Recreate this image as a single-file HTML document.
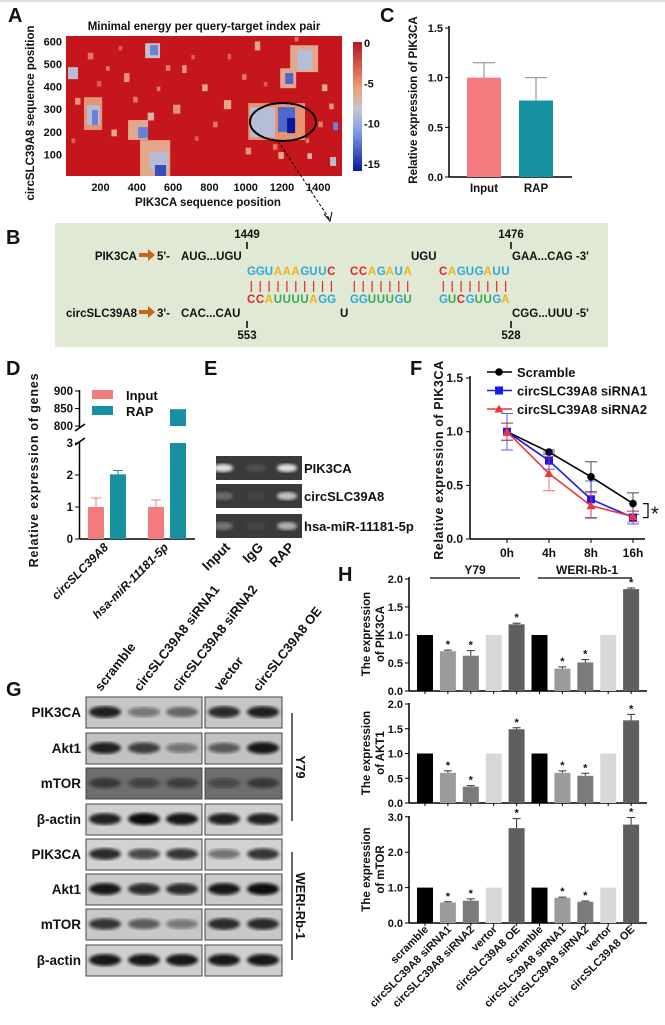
<!DOCTYPE html>
<html><head><meta charset="utf-8"><style>
html,body{margin:0;padding:0;background:#fff}
svg{display:block;font-family:"Liberation Sans",Arial,sans-serif;font-weight:bold}
text{fill:#111}
</style></head><body>
<svg id="fig" width="665" height="1025" viewBox="0 0 665 1025" xmlns="http://www.w3.org/2000/svg">
<defs>
<linearGradient id="cbar" x1="0" y1="0" x2="0" y2="1">
<stop offset="0" stop-color="#b2182b"/><stop offset="0.2" stop-color="#d9604a"/><stop offset="0.36" stop-color="#e9a27c"/><stop offset="0.52" stop-color="#c9c6cf"/><stop offset="0.7" stop-color="#7f9be6"/><stop offset="1" stop-color="#0818a0"/>
</linearGradient>
<filter id="blur1"><feGaussianBlur stdDeviation="1.6"/></filter>
<clipPath id="hmclip"><rect x="66" y="36" width="276" height="140"/></clipPath>
</defs>
<line x1="0" y1="1" x2="665" y2="1" stroke="#bbb"/>
<text x="8" y="22" font-size="20">A</text>
<text x="380" y="22" font-size="20">C</text>
<text x="6" y="244" font-size="20">B</text>
<text x="6" y="375" font-size="20">D</text>
<text x="204" y="375" font-size="20">E</text>
<text x="410" y="375" font-size="20">F</text>
<text x="6" y="696" font-size="20">G</text>
<text x="338" y="581" font-size="20">H</text>

<text x="204" y="30" font-size="11.5" text-anchor="middle">Minimal energy per query-target index pair</text>
<g id="hm" clip-path="url(#hmclip)"><rect x="66" y="36" width="276" height="140" fill="#c4161c"/></g>
<g id="hmAxes"></g>
<rect x="353" y="42" width="9" height="129" fill="url(#cbar)"/>
<g id="cbTicks"></g>
<text x="208" y="206" font-size="11.5" text-anchor="middle">PIK3CA sequence position</text>
<text transform="translate(34,113) rotate(-90)" font-size="11.5" text-anchor="middle">circSLC39A8 sequence position</text>
<ellipse cx="283" cy="122" rx="33" ry="19" fill="none" stroke="#000" stroke-width="2"/>
<line x1="278" y1="141" x2="330" y2="220" stroke="#000" stroke-dasharray="3,2"/>
<path d="M324 214 L330 221 L332 212" fill="none" stroke="#000"/>

<g id="chartC"></g>
<text transform="translate(417,100) rotate(-90)" font-size="11.5" text-anchor="middle">Relative expression of  PIK3CA</text>

<rect x="55" y="223" width="553" height="124" fill="#dfe9d3"/>
<g font-size="11.5">
<text x="247" y="238" text-anchor="middle">1449</text>
<line x1="247" y1="242" x2="247" y2="249" stroke="#000" stroke-width="1.5"/>
<text x="511" y="238" text-anchor="middle">1476</text>
<line x1="511" y1="242" x2="511" y2="249" stroke="#000" stroke-width="1.5"/>
<text x="137" y="260" text-anchor="end">PIK3CA</text>
<path d="M139 253 h9 v-4 l7 6 l-7 6 v-4 h-9z" fill="#c8641c"/>
<text x="157" y="260">5'-</text>
<text x="181" y="260">AUG...UGU</text>
<text x="411" y="260">UGU</text>
<text x="512" y="260">GAA...CAG -3'</text>
<text x="137" y="317" text-anchor="end">circSLC39A8</text>
<path d="M139 310 h9 v-4 l7 6 l-7 6 v-4 h-9z" fill="#c8641c"/>
<text x="157" y="317">3'-</text>
<text x="181" y="317">CAC...CAU</text>
<text x="340" y="317">U</text>
<text x="512" y="317">CGG...UUU -5'</text>
<line x1="247" y1="321" x2="247" y2="328" stroke="#000" stroke-width="1.5"/>
<text x="247" y="339" text-anchor="middle">553</text>
<line x1="511" y1="321" x2="511" y2="328" stroke="#000" stroke-width="1.5"/>
<text x="511" y="339" text-anchor="middle">528</text>
</g>
<g id="seqs" font-size="11.5"></g>

<g id="chartD"></g>
<text transform="translate(38,470) rotate(-90)" font-size="12.5" text-anchor="middle" letter-spacing="0.8">Relative expression of  genes</text>

<g id="gelE"></g>

<g id="chartF"></g>
<text transform="translate(443,460) rotate(-90)" font-size="12.5" text-anchor="middle" letter-spacing="0.6">Relative expression of  PIK3CA</text>

<g id="blotG"></g>
<g id="chartH"></g>
</svg>
<script>
// ---------- data ----------
const blobPos = [418,473,500, 109,126,153, 1014,1025,1178,1228, 1245,1283, 446,473, 21, 1190,1218, 352,407, 1482, 1465,
 130,180,230,300,330,380,600,650,700,760,820,880,900,980,1000,1050,1100,1150,1180,1330,1400,1420,1460,560,460,720,260,60,1340,1270,40,510];
const blobCirc = [4,31,4, 208,230,230, 164,177,199,194, 464,473, 526,539, 433, 393,411, 164,172, 207, 49,
 520,400,470,560,420,330,280,460,520,380,220,300,520,430,100,560,400,120,80,150,220,380,300,470,250,160,180,320,80,600,150,380];
const blobW = [166,100,61, 100,71,33, 313,137,94,44, 154,82, 82,44, 55, 88,44, 110,55, 27, 33,
 30,25,20,20,30,25,40,25,20,30,25,40,20,25,30,30,20,25,30,20,25,30,25,25,35,20,30,30,25,20,20,20];
const blobH = [159,79,49, 145,88,66, 163,132,110,67, 119,88, 66,44, 53, 88,49, 88,49, 35, 39,
 30,25,20,20,40,25,40,35,20,30,25,40,25,25,30,40,20,25,30,20,25,30,25,25,35,20,30,30,25,20,20,20];
const blobE = [-6,-9,-14, -5,-9,-12, -5,-9,-13,-16, -6,-9, -8,-12, -9, -6,-13, -6,-12, -12, -9,
 -4,-3,-4,-3,-5,-4,-5,-5,-3,-6,-4,-6,-3,-4,-5,-6,-3,-4,-6,-4,-4,-6,-5,-4,-7,-3,-6,-5,-7,-4,-3,-4];
const hmXTicks = [200,400,600,800,1000,1200,1400];
const hmYTicks = [100,200,300,400,500,600];
const cbTicks = [0,-5,-10,-15];
const cCats = ["Input","RAP"];
const cVals = [1.0,0.77];
const cErr = [0.15,0.23];
const cTicks = [0,0.5,1.0,1.5];
const dCats = ["circSLC39A8","hsa-miR-11181-5p"];
const dInput = [1.0,1.0];
const dInputErr = [0.28,0.22];
const dRAP = [2.02,848];
const dRAPErr = [0.12,1];
const dLowTicks = [0,1,2,3];
const dHighTicks = [800,850,900];
const eGenes = ["PIK3CA","circSLC39A8","hsa-miR-11181-5p"];
const eLanes = ["Input","IgG","RAP"];
const eBands = [[0.85,0.1,0.85],[0.25,0.05,0.7],[0.3,0.05,0.6]];
const fTimes = ["0h","4h","8h","16h"];
const fScr = [1.0,0.81,0.58,0.33];
const fScrErr = [0.08,0.02,0.14,0.1];
const fSi1 = [1.0,0.73,0.37,0.20];
const fSi1Err = [0.17,0.08,0.17,0.06];
const fSi2 = [1.0,0.61,0.31,0.21];
const fSi2Err = [0.08,0.16,0.12,0.05];
const fTicks = [0,0.5,1.0,1.5];
const gProteins = ["PIK3CA","Akt1","mTOR","β-actin","PIK3CA","Akt1","mTOR","β-actin"];
const gLanes = ["scramble","circSLC39A8 siRNA1","circSLC39A8 siRNA2","vector","circSLC39A8 OE"];
const gBands = [[0.9,0.45,0.55,0.85,0.9],[0.9,0.75,0.45,0.6,0.95],[0.6,0.5,0.55,0.45,0.6],[0.9,1,0.95,0.9,0.9],
 [0.85,0.7,0.8,0.5,0.8],[0.95,0.85,0.85,0.95,1],[0.8,0.6,0.45,0.85,0.85],[0.95,0.95,0.95,0.95,0.95]];
const hCats = ["scramble","circSLC39A8 siRNA1","circSLC39A8 siRNA2","vertor","circSLC39A8 OE","scramble","circSLC39A8 siRNA1","circSLC39A8 siRNA2","vertor","circSLC39A8 OE"];
const hPIK = [1,0.71,0.63,1,1.19, 1,0.40,0.51,1,1.82];
const hPIKErr = [0,0.02,0.09,0,0.02, 0,0.03,0.05,0,0.02];
const hAKT = [1,0.61,0.33,1,1.49, 1,0.61,0.55,1,1.67];
const hAKTErr = [0,0.04,0.02,0,0.03, 0,0.04,0.05,0,0.12];
const hMTOR = [1,0.58,0.63,1,2.68, 1,0.71,0.60,1,2.78];
const hMTORErr = [0,0.02,0.05,0,0.27, 0,0.02,0.02,0,0.2];
const hStar = [0,1,1,0,1, 0,1,1,0,1];
const hTicks12 = [0,0.5,1.0,1.5,2.0];
const hTicks3 = [0,1.0,2.0,3.0];

// ---------- helpers ----------
const NS="http://www.w3.org/2000/svg";
function mk(tag, attrs, parent){const e=document.createElementNS(NS,tag);for(const k in attrs)e.setAttribute(k,attrs[k]);parent.appendChild(e);return e;}
function txt(str, attrs, parent){const e=mk('text',attrs,parent);e.textContent=str;return e;}
function lerp(a,b,t){return a+(b-a)*t}
function hex(c){return [parseInt(c.slice(1,3),16),parseInt(c.slice(3,5),16),parseInt(c.slice(5,7),16)]}
const stops=[[0,"#c4161c"],[-3,"#d9604a"],[-5.5,"#e9a27c"],[-8.5,"#c3c6d3"],[-11,"#7f9be6"],[-16,"#0818a0"]];
function ecol(e){for(let i=0;i<stops.length-1;i++){const [a,ca]=stops[i],[b,cb]=stops[i+1];if(e<=a&&e>=b){const t=(a-e)/(a-b);const A=hex(ca),B=hex(cb);return `rgb(${Math.round(lerp(A[0],B[0],t))},${Math.round(lerp(A[1],B[1],t))},${Math.round(lerp(A[2],B[2],t))})`;}}return stops[stops.length-1][1];}

// ---------- A ----------
const ax=p=>64.2+p*36.3/200, ay=c=>177-c*22.6/100;
const hm=document.getElementById('hm');
for(let i=0;i<blobPos.length;i++){
  const r=mk('rect',{x:ax(blobPos[i]),y:ay(blobCirc[i]+blobH[i]),width:ax(blobW[i])-ax(0),height:ay(0)-ay(blobH[i]),fill:ecol(blobE[i])},hm);
  
  
}
const hmAx=document.getElementById('hmAxes');
hmXTicks.forEach(v=>{const t=txt(String(v),{x:ax(v),y:191,'font-size':11,'text-anchor':'middle'},hmAx);
  
  });
hmYTicks.forEach(v=>{const t=txt(String(v),{x:62,y:ay(v)+4,'font-size':11,'text-anchor':'end'},hmAx);
  
  });
const cbG=document.getElementById('cbTicks');
cbTicks.forEach(v=>{const t=txt(String(v),{x:364,y:43-v*8.07+4,'font-size':11},cbG);
  
  });

// ---------- C ----------
const C=document.getElementById('chartC');
const cy=v=>177-v*149/1.5;
mk('line',{x1:449,y1:26,x2:449,y2:177,stroke:'#000','stroke-width':1.5},C);
mk('line',{x1:449,y1:177,x2:572,y2:177,stroke:'#000','stroke-width':1.5},C);
cTicks.forEach(v=>{mk('line',{x1:445,y1:cy(v),x2:449,y2:cy(v),stroke:'#000'},C);
  const t=txt(v.toFixed(1),{x:443,y:cy(v)+4,'font-size':11,'text-anchor':'end'},C);
  
  });
const cCols=['#f47b7d','#17909f'], cX=[484,536];
cCats.forEach((c,i)=>{
  const b=mk('rect',{x:cX[i]-17,y:cy(cVals[i]),width:34,height:cy(0)-cy(cVals[i]),fill:cCols[i]},C);
  
  
  mk('line',{x1:cX[i],y1:cy(cVals[i]),x2:cX[i],y2:cy(cVals[i]+cErr[i]),stroke:'#888'},C);
  mk('line',{x1:cX[i]-11,y1:cy(cVals[i]+cErr[i]),x2:cX[i]+11,y2:cy(cVals[i]+cErr[i]),stroke:'#888'},C);
  const t=txt(c,{x:cX[i],y:192,'font-size':11.5,'text-anchor':'middle'},C);
  
  
});

// ---------- B sequences ----------
const S=document.getElementById('seqs');
const col={C:'#e3262c',A:'#f2b21c',G:'#2ea6dc',U:'#2ea6dc'};
const colB={C:'#e3262c',A:'#f2b21c',G:'#2ea6dc',U:'#3aa655'};
const topSeg=[["GGUAAAGUUC",247],["CCAGAUA",350],["CAGUGAUU",439]];
const botSeg=[["CCAUUUUAGG",247],["GGUUUGU",350],["GUCGUUGA",439]];
const cw=8.9;
topSeg.forEach(([s,x0])=>{[...s].forEach((ch,k)=>{const t=txt(ch,{x:x0+k*cw,y:275},S);t.style.fill=col[ch];
  
  
  mk('line',{x1:x0+k*cw+4.3,y1:281,x2:x0+k*cw+4.3,y2:292,stroke:'#e3262c','stroke-width':1.2},S);});});
botSeg.forEach(([s,x0])=>{[...s].forEach((ch,k)=>{const t=txt(ch,{x:x0+k*cw,y:303},S);t.style.fill=colB[ch];
  
  });});

// ---------- D ----------
const D=document.getElementById('chartD');
const dy=v=>539-v*32, dyu=v=>426-(v-800)*0.35;
mk('line',{x1:79.5,y1:539,x2:79.5,y2:441,stroke:'#000','stroke-width':1.5},D);
mk('line',{x1:79.5,y1:428,x2:79.5,y2:390,stroke:'#000','stroke-width':1.5},D);
mk('line',{x1:75,y1:445,x2:85,y2:438,stroke:'#000','stroke-width':1.5},D);
mk('line',{x1:75,y1:431,x2:85,y2:424,stroke:'#000','stroke-width':1.5},D);
mk('line',{x1:79.5,y1:539,x2:195,y2:539,stroke:'#000','stroke-width':1.5},D);
dLowTicks.forEach(v=>{mk('line',{x1:75,y1:dy(v),x2:79,y2:dy(v),stroke:'#000'},D);
  const t=txt(String(v),{x:73,y:dy(v)+4,'font-size':11.5,'text-anchor':'end'},D);
  
  });
dHighTicks.forEach(v=>{mk('line',{x1:75,y1:dyu(v),x2:79,y2:dyu(v),stroke:'#000'},D);
  const t=txt(String(v),{x:73,y:dyu(v)+4,'font-size':11.5,'text-anchor':'end'},D);
  
  });
const dGx=[107,167];
dCats.forEach((c,i)=>{
  const xi=dGx[i]-19, xr=dGx[i]+3;
  const bi=mk('rect',{x:xi,y:dy(dInput[i]),width:16,height:dy(0)-dy(dInput[i]),fill:'#f47b7d'},D);
  
  
  mk('path',{d:`M${xi+8} ${dy(dInput[i])} V${dy(dInput[i]+dInputErr[i])} M${xi+3} ${dy(dInput[i]+dInputErr[i])} H${xi+13}`,stroke:'#f47b7d',fill:'none'},D);
  const v=dRAP[i];
  if(v<=3){
    const br=mk('rect',{x:xr,y:dy(v),width:16,height:dy(0)-dy(v),fill:'#17909f'},D);
    
    
    mk('path',{d:`M${xr+8} ${dy(v)} V${dy(v+dRAPErr[i])} M${xr+3} ${dy(v+dRAPErr[i])} H${xr+13}`,stroke:'#17909f',fill:'none'},D);
  } else {
    const br=mk('rect',{x:xr,y:dy(3),width:16,height:dy(0)-dy(3),fill:'#17909f'},D);
    
    
    const bu=mk('rect',{x:xr,y:dyu(v),width:16,height:dyu(800)-dyu(v),fill:'#17909f'},D);
    
    
  }
  const t=txt(c,{transform:`translate(${dGx[i]+2},548) rotate(-45)`,'font-size':12,'text-anchor':'end','font-style':'italic'},D);
  
  
});
[['Input','#f47b7d',395],['RAP','#17909f',411]].forEach(([n,c,y])=>{
  mk('rect',{x:92,y:y-5,width:21,height:9,fill:c},D);
  const t=txt(n,{x:126,y:y+5,'font-size':13},D);
  
  
});

// ---------- E ----------
const E=document.getElementById('gelE');
const eRowY=[456,484,514], eLaneX=[223,256,287];
eGenes.forEach((g,r)=>{
  const bg=mk('rect',{x:216,y:eRowY[r],width:86,height:24,fill:'#3a3a3a'},E);
  
  
  eLanes.forEach((l,k)=>{const a=eBands[r][k];
    const b=mk('ellipse',{cx:eLaneX[k],cy:eRowY[r]+12,rx:10,ry:4,fill:'#fff','fill-opacity':a,filter:'url(#blur1)'},E);
    
    });
  const t=txt(g,{x:304,y:eRowY[r]+17,'font-size':13},E);
  
  
});
eLanes.forEach((l,k)=>{const t=txt(l,{transform:`translate(${eLaneX[k]+8},548) rotate(-45)`,'font-size':13.5,'text-anchor':'end'},E);
  
  });

// ---------- F ----------
const F=document.getElementById('chartF');
const fy=v=>539-v*107.3, fx=i=>507+i*42;
mk('line',{x1:470,y1:376,x2:470,y2:539,stroke:'#000','stroke-width':1.5},F);
mk('line',{x1:470,y1:539,x2:645,y2:539,stroke:'#000','stroke-width':1.5},F);
fTicks.forEach(v=>{mk('line',{x1:466,y1:fy(v),x2:470,y2:fy(v),stroke:'#000'},F);
  const t=txt(v.toFixed(1),{x:463,y:fy(v)+4,'font-size':12,'text-anchor':'end'},F);
  
  });
fTimes.forEach((h,i)=>{mk('line',{x1:fx(i),y1:539,x2:fx(i),y2:543,stroke:'#000'},F);
  const t=txt(h,{x:fx(i),y:557,'font-size':12,'text-anchor':'middle'},F);
  
  });
const fSeries=[[fScr,fScrErr,'#000','circle','Scramble'],[fSi1,fSi1Err,'#1a1af0','square','circSLC39A8 siRNA1'],[fSi2,fSi2Err,'#e8383c','tri','circSLC39A8 siRNA2']];
function marker(shape,x,y,c,p){
  if(shape==='circle')return mk('circle',{cx:x,cy:y,r:3.8,fill:c},p);
  if(shape==='square')return mk('rect',{x:x-4,y:y-4,width:8,height:8,fill:c},p);
  return mk('path',{d:`M${x} ${y-4.5} L${x+4.5} ${y+3.5} L${x-4.5} ${y+3.5}Z`,fill:c},p);
}
fSeries.forEach(([vals,errs,c,shape,name],si)=>{
  const pts=vals.map((v,i)=>fx(i)+','+fy(v)).join(' ');
  const ln=mk('polyline',{points:pts,fill:'none',stroke:c,'stroke-width':1.6},F);
  
  
  vals.forEach((v,i)=>{
    mk('path',{d:`M${fx(i)} ${fy(v-errs[i])} V${fy(v+errs[i])} M${fx(i)-6} ${fy(v+errs[i])} H${fx(i)+6} M${fx(i)-6} ${fy(v-errs[i])} H${fx(i)+6}`,stroke:c,fill:'none','stroke-opacity':0.7},F);
    const m=marker(shape,fx(i),fy(v),c,F);
    
    
  });
  const ly=372+si*18.5;
  mk('line',{x1:487,y1:ly,x2:512,y2:ly,stroke:c,'stroke-width':1.6},F);
  marker(shape,499,ly,c,F);
  const t=txt(name,{x:517,y:ly+5,'font-size':13},F);
  
  
});
mk('path',{d:`M643 ${fy(fScr[3])} H648 V${fy(fSi1[3])} H643`,fill:'none',stroke:'#000','stroke-width':1.2},F);
const fs=txt('*',{x:651,y:fy((fScr[3]+fSi1[3])/2)+10,'font-size':20,'font-weight':'normal'},F);



// ---------- G ----------
const G=document.getElementById('blotG');
const gRowY=[697,733,768,804,839,874,909,945], gLaneX=[105,144,182,224,263];
const gBg=['#c6c6c6','#c2c2c2','#6e6e6e','#cfcfcf','#d2d2d2','#cacaca','#c8c8c8','#cfcfcf'];
gProteins.forEach((p,r)=>{
  const y=gRowY[r];
  const b1=mk('rect',{x:86,y:y,width:116,height:31,fill:gBg[r],stroke:'#444','stroke-width':1},G);
  
  
  const b2=mk('rect',{x:205,y:y,width:77,height:31,fill:gBg[r],stroke:'#444','stroke-width':1},G);
  
  
  gLanes.forEach((l,k)=>{const a=gBands[r][k];
    const e=mk('ellipse',{cx:gLaneX[k],cy:y+15,rx:16,ry:4+2*a,fill:'#111','fill-opacity':a,filter:'url(#blur1)'},G);
    
    });
  const t=txt(p,{x:81,y:y+20,'font-size':13.5,'text-anchor':'end'},G);
  
  
});
gLanes.forEach((l,k)=>{const t=txt(l,{transform:`translate(${gLaneX[k]-4},692) rotate(-52)`,'font-size':13},G);
  
  });
mk('line',{x1:292,y1:713,x2:292,y2:821,stroke:'#000','stroke-width':1.2},G);
mk('line',{x1:292,y1:852,x2:292,y2:960,stroke:'#000','stroke-width':1.2},G);
let t1=txt('Y79',{transform:'translate(296,767) rotate(90)','font-size':13,'text-anchor':'middle'},G);


let t2=txt('WERI-Rb-1',{transform:'translate(296,906) rotate(90)','font-size':13,'text-anchor':'middle'},G);



// ---------- H ----------
const H=document.getElementById('chartH');
const hx=i=>425+i*22.9;
const hCol=['#000','#9b9b9b','#7b7b7b','#d8d8d8','#5f5f5f'];
function hChart(vals,errs,ticks,y0,ppu,top,line1,line2,name){
  const y=v=>y0-v*ppu;
  mk('line',{x1:409,y1:top,x2:409,y2:y0,stroke:'#000','stroke-width':1.5},H);
  mk('line',{x1:409,y1:y0,x2:647,y2:y0,stroke:'#000','stroke-width':1.5},H);
  ticks.forEach(v=>{mk('line',{x1:405,y1:y(v),x2:409,y2:y(v),stroke:'#000'},H);
    const t=txt(v.toFixed(1),{x:403,y:y(v)+4,'font-size':11,'text-anchor':'end'},H);
    
    });
  vals.forEach((v,i)=>{
    mk('line',{x1:hx(i),y1:y0,x2:hx(i),y2:y0+3,stroke:'#000'},H);
    const b=mk('rect',{x:hx(i)-8,y:y(v),width:16,height:y0-y(v),fill:hCol[i%5]},H);
    
    
    if(errs[i]>0) mk('path',{d:`M${hx(i)} ${y(v)} V${y(v+errs[i])} M${hx(i)-4} ${y(v+errs[i])} H${hx(i)+4}`,stroke:'#333',fill:'none'},H);
    if(hStar[i]){const s=txt('*',{x:hx(i),y:y(v+errs[i])-2,'font-size':11,'text-anchor':'middle'},H);
      
      }
  });
  const mid=(top+y0)/2;
  const a=txt(line1,{transform:`translate(370,${mid}) rotate(-90)`,'font-size':11.5,'text-anchor':'middle'},H);
  
  
  const b=txt(line2,{transform:`translate(384,${mid}) rotate(-90)`,'font-size':11.5,'text-anchor':'middle'},H);
  
  
}
hChart(hPIK,hPIKErr,hTicks12,691,56,577,'The expression','of PIK3CA','pik3ca');
hChart(hAKT,hAKTErr,hTicks12,803,49.5,703,'The expression','of AKT1','akt1');
hChart(hMTOR,hMTORErr,hTicks3,923,35.4,816,'The expression','of mTOR','mtor');
hCats.forEach((c,i)=>{const t=txt(c,{transform:`translate(${hx(i)+4},930) rotate(-45)`,'font-size':11,'text-anchor':'end'},H);
  
  });
mk('line',{x1:430,y1:578,x2:520,y2:578,stroke:'#000','stroke-width':1.2},H);
mk('line',{x1:538,y1:578,x2:632,y2:578,stroke:'#000','stroke-width':1.2},H);
let hy=txt('Y79',{x:475,y:574,'font-size':12,'text-anchor':'middle'},H);


let hw=txt('WERI-Rb-1',{x:587,y:574,'font-size':12,'text-anchor':'middle'},H);


</script>
</body></html>
